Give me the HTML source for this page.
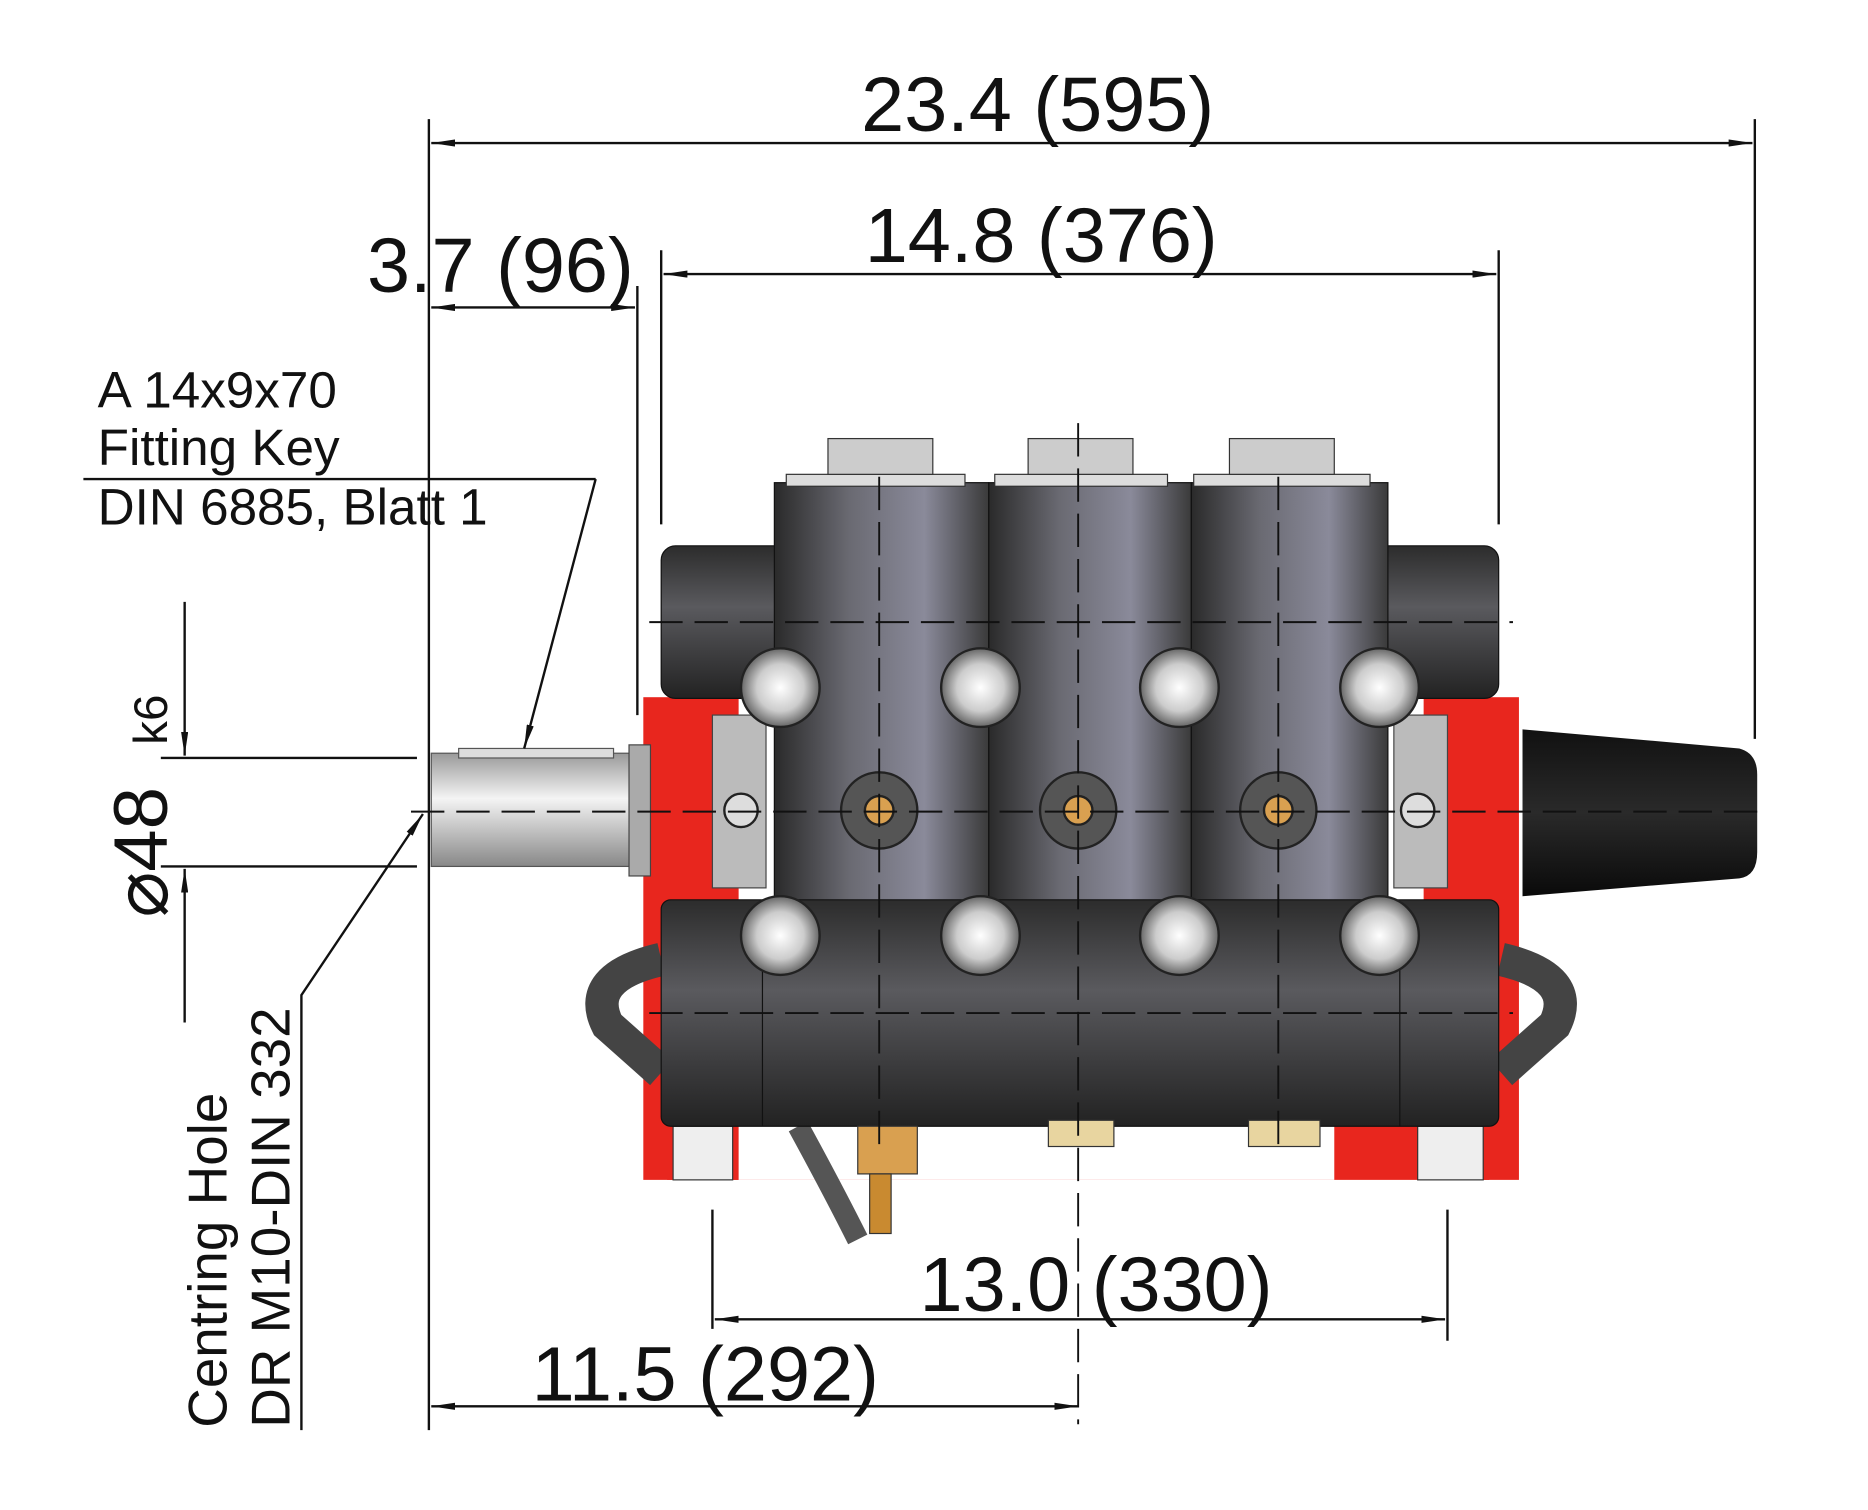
<!DOCTYPE html>
<html><head><meta charset="utf-8"><style>html,body{margin:0;padding:0;background:#fff}svg{display:block}text{font-family:"Liberation Sans",sans-serif;fill:#111}</style></head><body>
<svg width="1868" height="1510" viewBox="0 0 1568 1267" preserveAspectRatio="none" xmlns="http://www.w3.org/2000/svg">
<defs>
<linearGradient id="cyl" x1="0" x2="1" y1="0" y2="0"><stop offset="0" stop-color="#2a2a2a"/><stop offset=".35" stop-color="#6a6a72"/><stop offset=".7" stop-color="#8a8a9a"/><stop offset="1" stop-color="#3a3a3a"/></linearGradient>
<linearGradient id="hor" x1="0" x2="0" y1="0" y2="1"><stop offset="0" stop-color="#2c2c2c"/><stop offset=".4" stop-color="#5a5a5e"/><stop offset="1" stop-color="#222"/></linearGradient>
<linearGradient id="shaft" x1="0" x2="0" y1="0" y2="1"><stop offset="0" stop-color="#999"/><stop offset=".4" stop-color="#f4f4f4"/><stop offset="1" stop-color="#888"/></linearGradient>
<linearGradient id="cone" x1="0" x2="0" y1="0" y2="1"><stop offset="0" stop-color="#111"/><stop offset=".5" stop-color="#2a2a2a"/><stop offset="1" stop-color="#0a0a0a"/></linearGradient>
<radialGradient id="bolt"><stop offset="0" stop-color="#fff"/><stop offset=".6" stop-color="#ccc"/><stop offset="1" stop-color="#666"/></radialGradient>
<marker id="a" viewBox="0 0 20 6" refX="20" refY="3" markerWidth="20" markerHeight="6" orient="auto-start-reverse" markerUnits="userSpaceOnUse"><path d="M0,0 L20,3 L0,6z" fill="#111"/></marker>
</defs>
<rect x="540" y="585" width="80" height="405" fill="#e8261e"/>
<rect x="1195" y="585" width="80" height="405" fill="#e8261e"/>
<rect x="560" y="935" width="690" height="55" fill="#e8261e"/>
<rect x="565" y="945" width="50" height="45" fill="#eee" stroke="#333"/>
<rect x="1190" y="945" width="55" height="45" fill="#eee" stroke="#333"/>
<rect x="620" y="945" width="500" height="45" fill="#fff"/>
<rect x="640" y="935" width="480" height="10" fill="#e8261e"/>
<path d="M555,805 Q490,820 510,860 L555,900" stroke="#444" stroke-width="28" fill="none"/>
<path d="M1260,805 Q1325,820 1305,860 L1260,900" stroke="#444" stroke-width="28" fill="none"/>
<path d="M670,945 Q700,1000 720,1040" stroke="#555" stroke-width="18" fill="none"/>
<rect x="362" y="632" width="168" height="95" fill="url(#shaft)" stroke="#555"/>
<rect x="385" y="628" width="130" height="8" fill="#ddd" stroke="#555"/>
<rect x="528" y="625" width="18" height="110" fill="#aaa" stroke="#444"/>
<path d="M1278,612 L1460,628 Q1475,632 1475,650 L1475,715 Q1475,735 1460,737 L1278,752Z" fill="url(#cone)"/>
<rect x="598" y="600" width="45" height="145" fill="#bbb" stroke="#444"/>
<rect x="1170" y="600" width="45" height="145" fill="#bbb" stroke="#444"/>
<rect x="555" y="458" width="703" height="128" rx="12" fill="url(#hor)" stroke="#111"/>
<rect x="650" y="405" width="180" height="360" fill="url(#cyl)" stroke="#111"/>
<rect x="830" y="405" width="170" height="360" fill="url(#cyl)" stroke="#111"/>
<rect x="1000" y="405" width="165" height="360" fill="url(#cyl)" stroke="#111"/>
<rect x="660" y="398" width="150" height="10" fill="#ddd" stroke="#333"/>
<rect x="835" y="398" width="145" height="10" fill="#ddd" stroke="#333"/>
<rect x="1002" y="398" width="148" height="10" fill="#ddd" stroke="#333"/>
<rect x="695" y="368" width="88" height="30" fill="#ccc" stroke="#333"/>
<rect x="863" y="368" width="88" height="30" fill="#ccc" stroke="#333"/>
<rect x="1032" y="368" width="88" height="30" fill="#ccc" stroke="#333"/>
<rect x="555" y="755" width="703" height="190" rx="8" fill="url(#hor)" stroke="#111"/>
<line x1="640" y1="790" x2="640" y2="945" stroke="#111"/><line x1="1175" y1="790" x2="1175" y2="945" stroke="#111"/>
<g stroke="#222" stroke-width="2">
<circle cx="655" cy="577" r="33" fill="url(#bolt)"/><circle cx="823" cy="577" r="33" fill="url(#bolt)"/><circle cx="990" cy="577" r="33" fill="url(#bolt)"/><circle cx="1158" cy="577" r="33" fill="url(#bolt)"/>
<circle cx="655" cy="785" r="33" fill="url(#bolt)"/><circle cx="823" cy="785" r="33" fill="url(#bolt)"/><circle cx="990" cy="785" r="33" fill="url(#bolt)"/><circle cx="1158" cy="785" r="33" fill="url(#bolt)"/>
<circle cx="738" cy="680" r="32" fill="#555"/><circle cx="905" cy="680" r="32" fill="#555"/><circle cx="1073" cy="680" r="32" fill="#555"/>
<circle cx="738" cy="680" r="12" fill="#d9a050"/><circle cx="905" cy="680" r="12" fill="#d9a050"/><circle cx="1073" cy="680" r="12" fill="#d9a050"/>
<circle cx="622" cy="680" r="14" fill="#ddd"/><circle cx="1190" cy="680" r="14" fill="#ddd"/>
</g>
<rect x="720" y="945" width="50" height="40" fill="#d9a050" stroke="#333"/>
<rect x="730" y="985" width="18" height="50" fill="#c98a30" stroke="#333"/>
<rect x="880" y="940" width="55" height="22" fill="#e8d5a0" stroke="#333"/>
<rect x="1048" y="940" width="60" height="22" fill="#e8d5a0" stroke="#333"/>
<g stroke="#111" stroke-width="1.6" stroke-dasharray="28,10" fill="none">
<line x1="345" y1="681" x2="1485" y2="681"/>
<line x1="545" y1="522" x2="1270" y2="522"/>
<line x1="545" y1="850" x2="1270" y2="850"/>
<line x1="738" y1="400" x2="738" y2="960"/><line x1="905" y1="355" x2="905" y2="1195"/><line x1="1073" y1="400" x2="1073" y2="960"/>
</g>
<g stroke="#111" stroke-width="2" fill="none">
<line x1="360" y1="100" x2="360" y2="1200"/><line x1="1473" y1="100" x2="1473" y2="620"/>
<line x1="555" y1="210" x2="555" y2="440"/><line x1="1258" y1="210" x2="1258" y2="440"/>
<line x1="535" y1="240" x2="535" y2="600"/>
<line x1="598" y1="1015" x2="598" y2="1115"/><line x1="1215" y1="1015" x2="1215" y2="1125"/>
<line x1="362" y1="120" x2="1471" y2="120" marker-start="url(#a)" marker-end="url(#a)"/>
<line x1="557" y1="230" x2="1256" y2="230" marker-start="url(#a)" marker-end="url(#a)"/>
<line x1="362" y1="258" x2="533" y2="258" marker-start="url(#a)" marker-end="url(#a)"/>
<line x1="600" y1="1107" x2="1213" y2="1107" marker-start="url(#a)" marker-end="url(#a)"/>
<line x1="362" y1="1180" x2="905" y2="1180" marker-start="url(#a)" marker-end="url(#a)"/>
<line x1="135" y1="636" x2="350" y2="636"/><line x1="135" y1="727" x2="350" y2="727"/>
<line x1="155" y1="505" x2="155" y2="634" marker-end="url(#a)"/><line x1="155" y1="858" x2="155" y2="729" marker-end="url(#a)"/>
<line x1="70" y1="402" x2="500" y2="402"/><line x1="500" y1="402" x2="440" y2="628" marker-end="url(#a)"/>
<polyline points="253,1200 253,835 355,683" marker-end="url(#a)"/>
</g>
<g font-size="65">
<text x="871" y="110" text-anchor="middle">23.4 (595)</text>
<text x="874" y="220" text-anchor="middle">14.8 (376)</text>
<text x="420" y="245" text-anchor="middle">3.7 (96)</text>
<text x="920" y="1100" text-anchor="middle">13.0 (330)</text>
<text x="592" y="1175" text-anchor="middle">11.5 (292)</text>
</g>
<g font-size="43"><text x="82" y="342">A 14x9x70</text><text x="82" y="390">Fitting Key</text><text x="82" y="440">DIN 6885, Blatt 1</text></g>
<text transform="translate(140,770) rotate(-90)" font-size="64">⌀48</text>
<text transform="translate(140,625) rotate(-90)" font-size="40">k6</text>
<text transform="translate(190,1198) rotate(-90)" font-size="46">Centring Hole</text>
<text transform="translate(243,1198) rotate(-90)" font-size="46">DR M10-DIN 332</text>
</svg>
</body></html>
